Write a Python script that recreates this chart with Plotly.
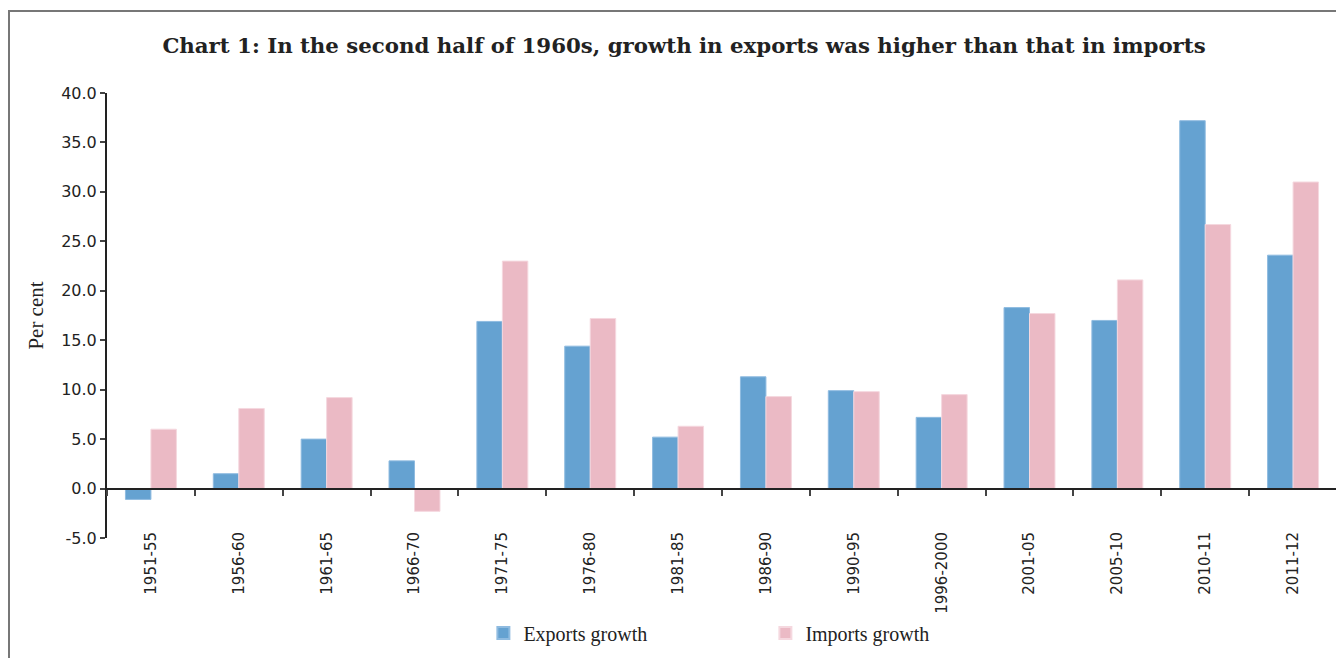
import plotly.graph_objects as go

periods = ["1951-55", "1956-60", "1961-65", "1966-70", "1971-75", "1976-80", "1981-85",
           "1986-90", "1990-95", "1996-2000", "2001-05", "2005-10", "2010-11", "2011-12"]
exports_growth = [-1.1, 1.5, 5.0, 2.8, 16.9, 14.4, 5.2, 11.3, 9.9, 7.2, 18.3, 17.0, 37.2, 23.6]
imports_growth = [6.0, 8.1, 9.2, -2.3, 23.0, 17.2, 6.3, 9.3, 9.8, 9.5, 17.7, 21.1, 26.7, 31.0]
y_ticks = [-5, 0, 5, 10, 15, 20, 25, 30, 35, 40]
y_ticktext = [f"{v:.1f}" for v in y_ticks]

BLUE = "#65A2D1"
PINK = "#EBBAC5"
SERIF = "Liberation Serif, DejaVu Serif, serif"
TITLE_SERIF = "DejaVu Serif, Liberation Serif, serif"
SANS = "DejaVu Sans, Verdana, sans-serif"

ymin, ymax = -5, 40
zero_pos = (0 - ymin) / (ymax - ymin)

W, H = 1336, 650
L, R, T, B = 99, 7, 85, 120
PW, PH = W - L - R, H - T - B

fig = go.Figure()
fig.add_trace(go.Bar(x=periods, y=exports_growth, name="Exports growth",
                     marker=dict(color=BLUE, line=dict(color="#8FBBE0", width=1))))
fig.add_trace(go.Bar(x=periods, y=imports_growth, name="Imports growth",
                     marker=dict(color=PINK, line=dict(color="#F5D8DF", width=1))))
# invisible helper trace for the zero-line category axis
fig.add_trace(go.Scatter(x=periods, y=exports_growth, xaxis="x2", mode="markers",
                         marker=dict(opacity=0), showlegend=False, hoverinfo="skip"))

fig.update_layout(
    width=W, height=H,
    paper_bgcolor="white", plot_bgcolor="white",
    margin=dict(l=L, r=R, t=T, b=B, autoexpand=False),
    barmode="group", bargap=0.42, bargroupgap=0,
    title=dict(text="<b>Chart 1: In the second half of 1960s, growth in exports was higher than that in imports</b>",
               x=0.506, xanchor="center", y=0.943, yanchor="middle",
               font=dict(family=TITLE_SERIF, size=21.3, color="#222")),
    xaxis=dict(type="category", range=[-0.5, 13.5], showline=False, ticks="",
               tickangle=-90, tickfont=dict(family=SANS, size=15, color="#222"),
               ticklabelstandoff=-10, showgrid=False, zeroline=False),
    xaxis2=dict(type="category", overlaying="x", anchor="free", position=zero_pos,
                range=[-0.5, 13.5], showline=True, linecolor="#222", linewidth=2,
                ticks="outside", tickson="boundaries", ticklen=6, tickwidth=1.5,
                tickcolor="#444", showticklabels=False, showgrid=False, zeroline=False),
    yaxis=dict(range=[ymin, ymax], tickvals=y_ticks, ticktext=y_ticktext,
               showline=True, linecolor="#222", linewidth=2, ticks="outside",
               ticklen=5, tickwidth=1.5, tickcolor="#444", showgrid=False, zeroline=False,
               tickfont=dict(family=SANS, size=16, color="#222"),
               title=dict(text="Per cent", font=dict(family=SERIF, size=21, color="#222"),
                          standoff=12)),
    legend=dict(orientation="h", x=0.306, xanchor="left", y=-0.2135, yanchor="middle",
                entrywidth=237, entrywidthmode="pixels", bgcolor="rgba(0,0,0,0)",
                font=dict(family=SERIF, size=20, color="#222"), itemsizing="constant"),
    shapes=[dict(type="rect", xref="paper", yref="paper",
                 x0=(1 - L) / PW, x1=1.2, y0=-0.6, y1=1 + (T - 3) / PH,
                 line=dict(color="#777", width=2), fillcolor="rgba(0,0,0,0)", layer="below")],
)

fig.write_html("out.html")
